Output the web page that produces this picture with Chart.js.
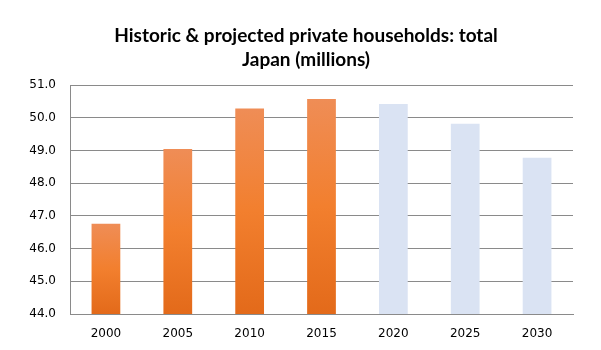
<!DOCTYPE html>
<html>
<head>
<meta charset="utf-8">
<script src="https://cdn.jsdelivr.net/npm/chart.js@4"></script>
<style>
  html, body { margin: 0; padding: 0; background: #fff; }
  #wrap { width: 601px; height: 350px; }
</style>
</head>
<body>
<div id="wrap"><canvas id="c" width="601" height="350"></canvas></div>
<script>
// Private households in Japan, millions (2000-2015 historic, 2020-2030 projected)
const years = ['2000', '2005', '2010', '2015', '2020', '2025', '2030'];
const households = [46.76, 49.05, 50.29, 50.58, 50.43, 49.82, 48.78];
const projected = [false, false, false, false, true, true, true];
const yMin = 44, yMax = 51, yStep = 1;

const gridColor = '#8a8a8a';
const projectedColor = '#dae3f3';

function barFill(ctx) {
  const i = ctx.dataIndex;
  if (projected[i]) return projectedColor;
  const chart = ctx.chart;
  const y = chart.scales.y;
  if (!y || !chart.chartArea) return '#f07e2c';
  const top = y.getPixelForValue(households[i]);
  const bottom = y.getPixelForValue(yMin);
  const g = chart.ctx.createLinearGradient(0, top, 0, bottom);
  g.addColorStop(0, '#ef8d56');
  g.addColorStop(0.5, '#f27f2e');
  g.addColorStop(1, '#e36a1a');
  return g;
}

new Chart(document.getElementById('c'), {
  type: 'bar',
  data: {
    labels: years,
    datasets: [{
      data: households,
      backgroundColor: barFill,
      borderWidth: 0,
      barPercentage: 0.4,
      categoryPercentage: 1.0
    }]
  },
  options: {
    responsive: false,
    animation: false,
    devicePixelRatio: 1,
    layout: { padding: { left: 11, right: 0, top: 0, bottom: 0 } },
    plugins: {
      legend: { display: false },
      tooltip: { enabled: false },
      title: {
        display: true,
        text: ['Historic & projected private households: total', 'Japan (millions)'],
        color: '#000',
        font: { family: 'Lato', size: 19, weight: 'bold', lineHeight: 1.27 },
        padding: { top: 24, bottom: 13 }
      }
    },
    scales: {
      x: {
        grid: { display: false, drawTicks: false },
        border: { display: true, color: gridColor, width: 1 },
        ticks: {
          color: '#000',
          font: { family: 'DejaVu Sans', size: 12 },
          padding: 13
        },
        afterFit(scale) { scale.height = 36; }
      },
      y: {
        min: yMin,
        max: yMax,
        grid: { color: gridColor, lineWidth: 1, drawTicks: false },
        border: { display: true, color: gridColor, width: 1 },
        ticks: {
          stepSize: yStep,
          color: '#000',
          font: { family: 'DejaVu Sans', size: 12 },
          padding: 14,
          callback: v => Number(v).toFixed(1)
        },
        afterFit(scale) { scale.width = 59; }
      },
      // empty right-hand margin beside the plot
      gap: {
        position: 'right',
        min: yMin,
        max: yMax,
        grid: { display: false, drawTicks: false },
        border: { display: false },
        ticks: { display: false },
        afterFit(scale) { scale.width = 28; }
      }
    }
  }
});
</script>
</body>
</html>
